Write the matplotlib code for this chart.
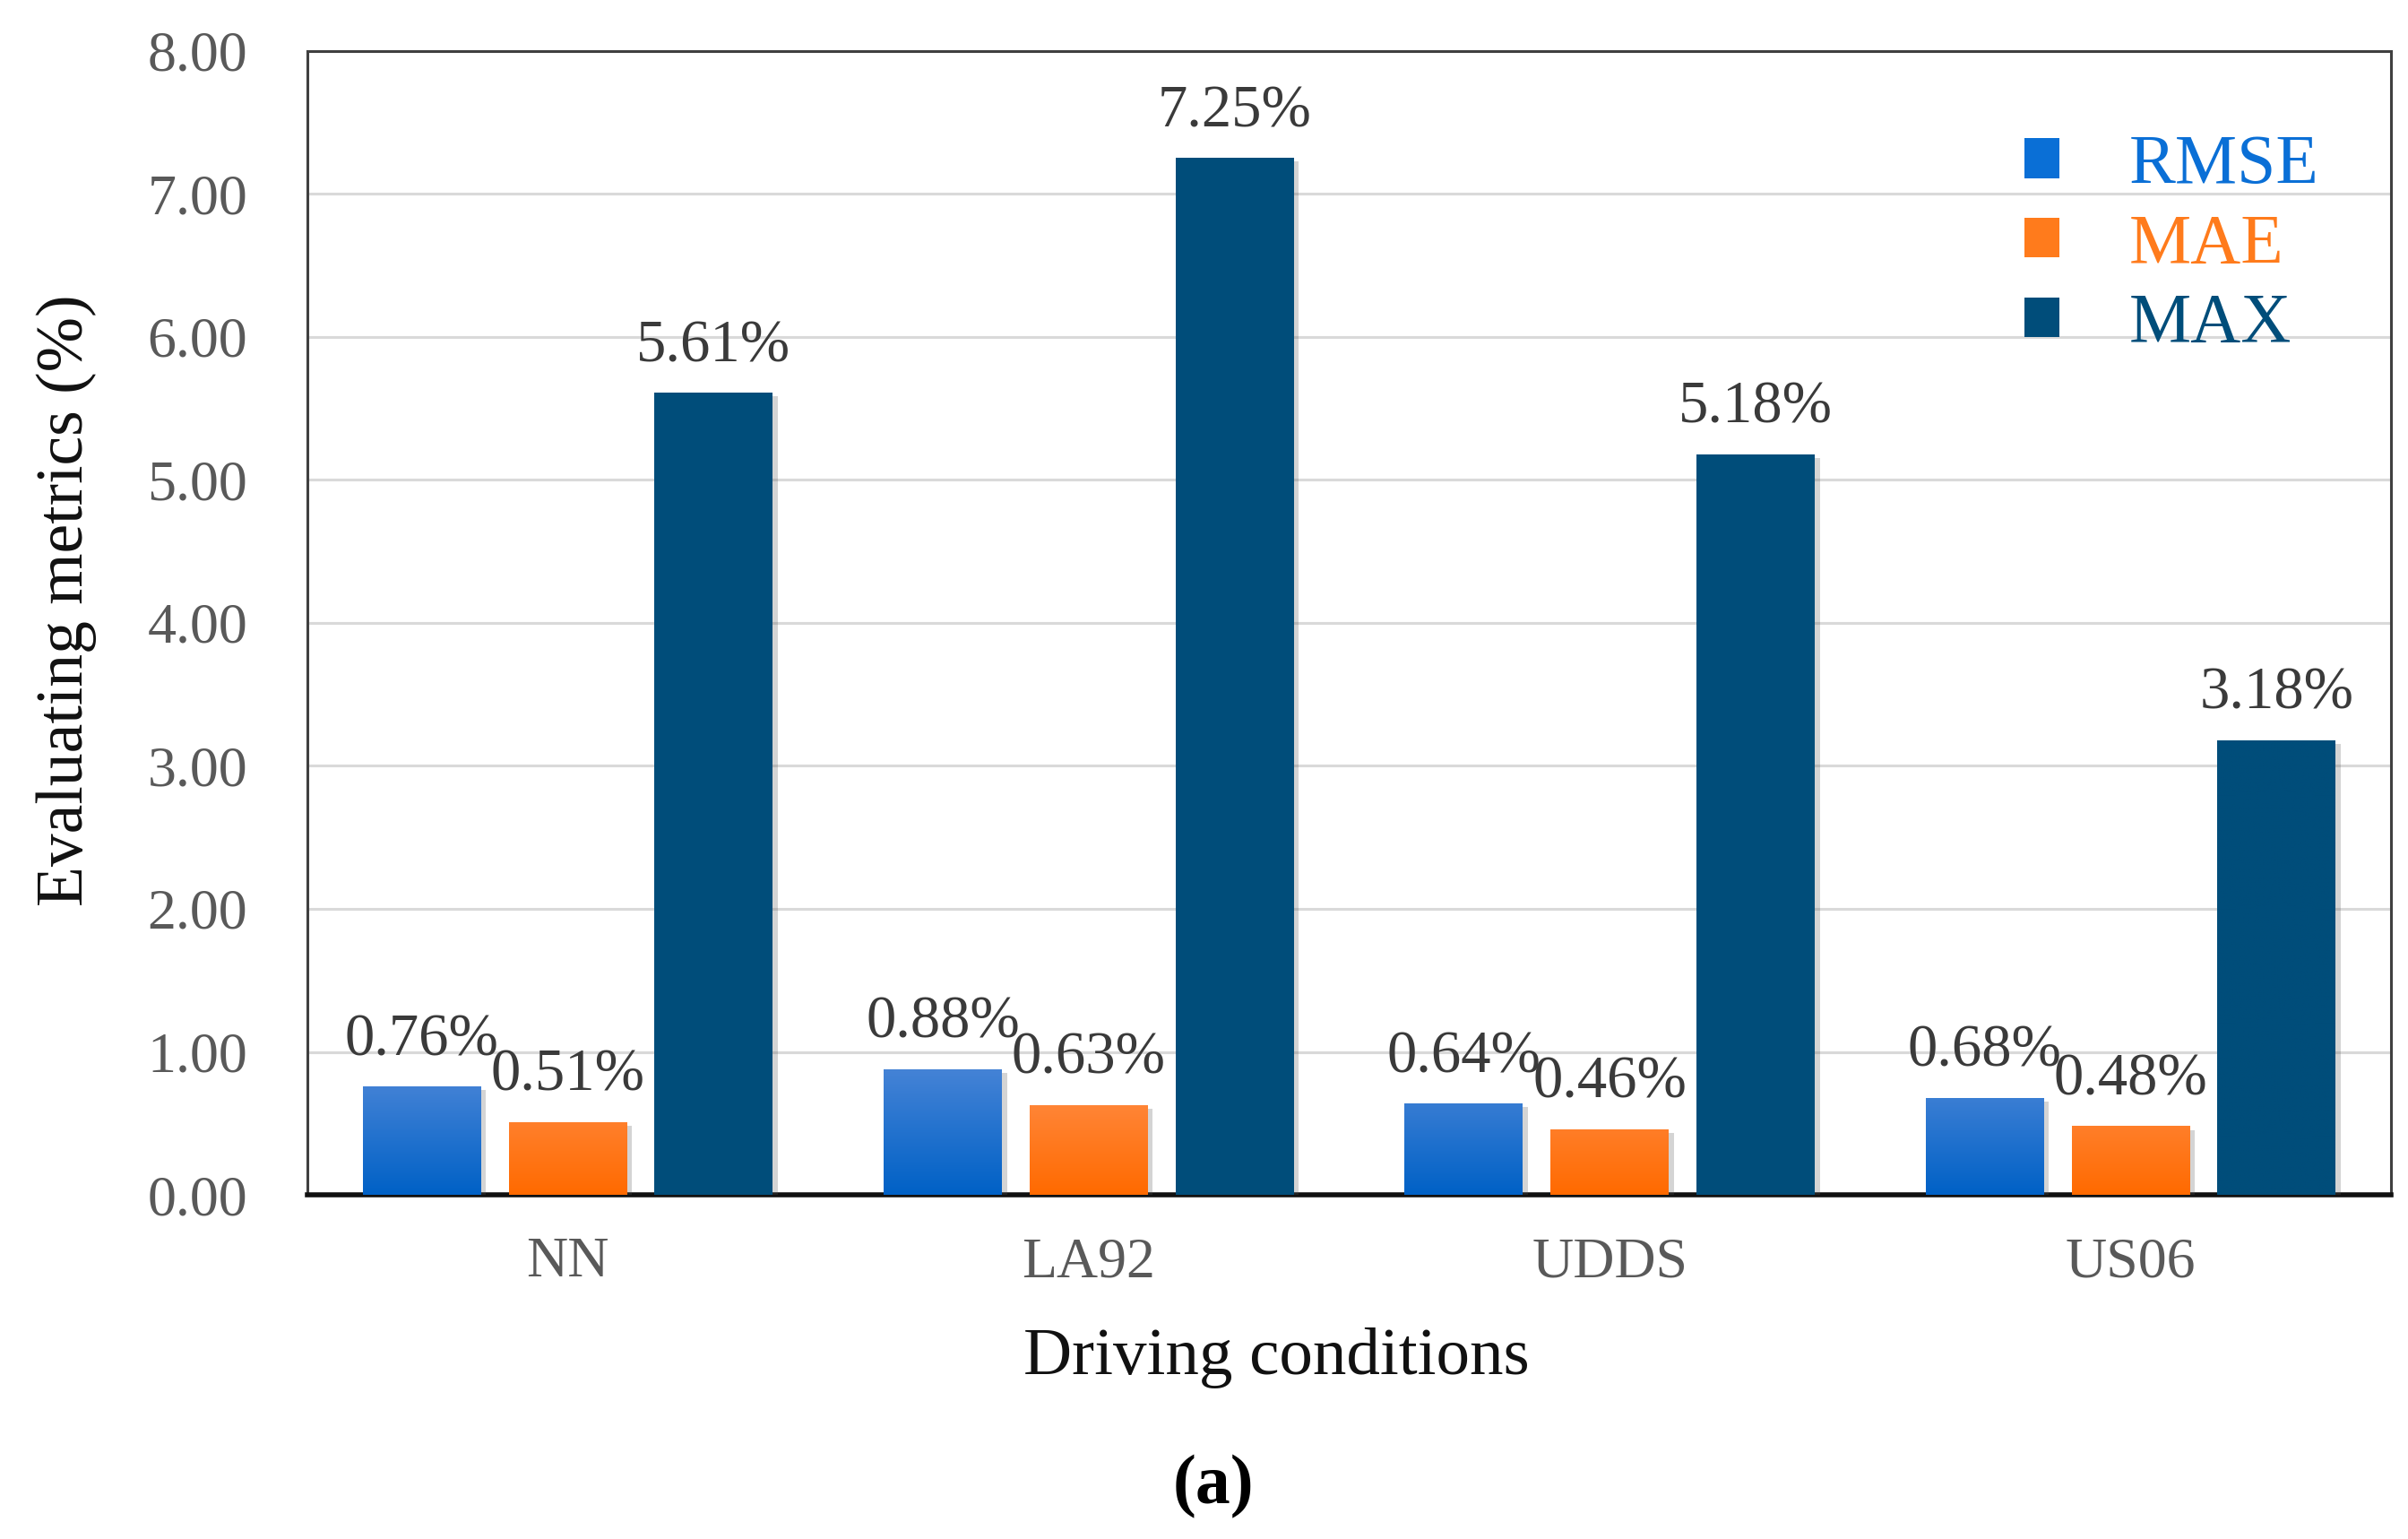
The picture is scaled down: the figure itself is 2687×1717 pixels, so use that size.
import numpy as np
import matplotlib
matplotlib.use("Agg")
import matplotlib.pyplot as plt
import matplotlib.patheffects as pe
from matplotlib.colors import LinearSegmentedColormap
from matplotlib.patches import Patch

plt.rcParams['font.family'] = ['Liberation Serif', 'DejaVu Serif']

conditions = ['NN', 'LA92', 'UDDS', 'US06']
rmse = [0.76, 0.88, 0.64, 0.68]
mae = [0.51, 0.63, 0.46, 0.48]
max_err = [5.61, 7.25, 5.18, 3.18]
series_names = ['RMSE', 'MAE', 'MAX']
yticks = [0, 1, 2, 3, 4, 5, 6, 7, 8]

# (top colour, bottom colour) per series
grad_colors = [('#4583d6', '#0061c6'), ('#ff8c45', '#ff6a00'), ('#004d7a', '#004d7a')]
legend_colors = ['#0a6fd6', '#ff7b1c', '#004d7a']

fig = plt.figure(figsize=(26.87, 17.17), dpi=100)
ax = fig.add_axes([0.1276, 0.2236, 0.8654, 0.7434])

x = np.arange(len(conditions))
width = 0.227
pitch = 0.28
series = [rmse, mae, max_err]

for i, vals in enumerate(series):
    pos = x + (i - 1) * pitch
    bars = ax.bar(pos, vals, width, color=grad_colors[i][1], zorder=3,
                  path_effects=[pe.SimplePatchShadow(offset=(4, -3), alpha=0.25,
                                                     shadow_rgbFace='#555555'),
                                pe.Normal()])
    cmap = LinearSegmentedColormap.from_list('g%d' % i, [grad_colors[i][1], grad_colors[i][0]])
    for b, v in zip(bars, vals):
        # vertical gradient clipped to the bar
        grad = np.linspace(0, 1, 256).reshape(-1, 1)
        im = ax.imshow(grad, cmap=cmap, origin='lower', aspect='auto',
                       extent=[b.get_x(), b.get_x() + b.get_width(), 0, max(v, 0.8)],
                       zorder=3.5)
        im.set_clip_path(b)
        ax.text(b.get_x() + b.get_width() / 2, v + 0.13, f'{v:.2f}%',
                ha='center', va='bottom', fontsize=48, color='#3a3a3a', zorder=5)

ax.set_xlim(-0.5, len(conditions) - 0.5)
ax.set_ylim(0, 8)
ax.set_yticks(yticks)
ax.set_yticklabels([f'{t:.2f}' for t in yticks])
ax.set_xticks(x)
ax.set_xticklabels(conditions)
ax.tick_params(axis='both', length=0, labelsize=46, labelcolor='#595959')
ax.tick_params(axis='y', pad=48)
ax.tick_params(axis='x', pad=34)
ax.yaxis.grid(True, color='#d9d9d9', linewidth=2.2, zorder=0)
ax.set_axisbelow(True)
for side in ['top', 'right', 'left']:
    ax.spines[side].set_color('#404040')
    ax.spines[side].set_linewidth(2.2)
ax.spines['bottom'].set_color('#111111')
ax.spines['bottom'].set_linewidth(4)

ax.set_ylabel('Evaluating metrics (%)', fontsize=53, color='#111111')
ax.yaxis.set_label_coords(-0.101, 0.52)
ax.set_xlabel('Driving conditions', fontsize=54, color='#111111')
ax.xaxis.set_label_coords(0.465, -0.116)

handles = [Patch(facecolor=c, edgecolor='none') for c in legend_colors]
leg = ax.legend(handles, series_names, loc='upper left', bbox_to_anchor=(0.794, 0.982),
                frameon=False, fontsize=56, handlelength=0.5, handleheight=0.5,
                handletextpad=1.0, labelspacing=0.22, labelcolor=legend_colors)

fig.text(0.504, 0.034, '(a)', ha='center', va='center', fontsize=56,
         fontweight='bold', color='black')

fig.savefig('out.png', dpi=100)
